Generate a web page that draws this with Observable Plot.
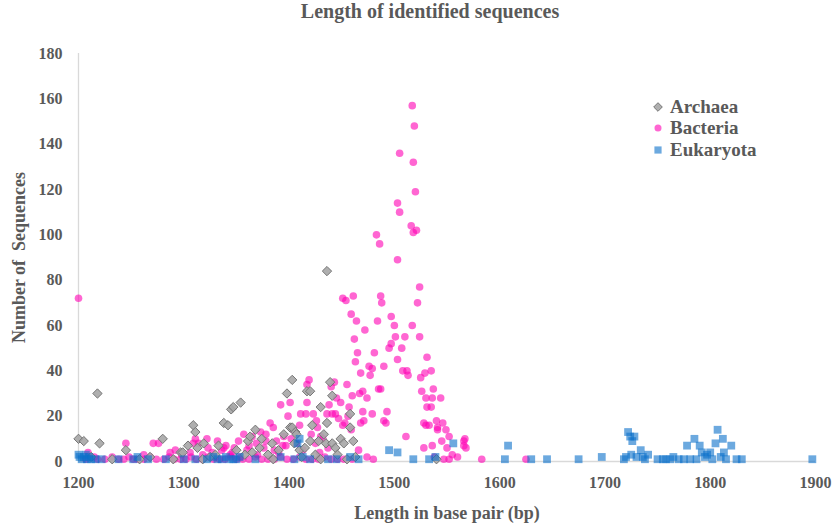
<!DOCTYPE html>
<html>
<head>
<meta charset="utf-8">
<script src="https://cdn.jsdelivr.net/npm/d3@7"></script>
<script src="https://cdn.jsdelivr.net/npm/@observablehq/plot@0.6"></script>
<style>
  body { margin: 0; background: #fff; width: 836px; height: 527px; overflow: hidden; position: relative; }
  #title { height: 36px; line-height: 38px; text-align: center; font: bold 20px "Liberation Serif", serif; color: #595959; padding-left: 24px; }
  #legend { position: absolute; left: 652px; top: 96px; font: bold 19px "Liberation Serif", serif; color: #595959; }
  #legend div { height: 21.5px; display: flex; align-items: center; }
  #legend svg { margin-right: 6px; }
  #chart svg text { font-family: "Liberation Serif", serif; }
</style>
</head>
<body>
<div id="title">Length of identified sequences</div>
<div id="chart"></div>
<div id="legend"></div>
<script>
// ---- data (length in bp, number of sequences) ----
const seriesNames = ["Archaea", "Bacteria", "Eukaryota"];
const xTicks = [1200, 1300, 1400, 1500, 1600, 1700, 1800, 1900];
const yTicks = [0, 20, 40, 60, 80, 100, 120, 140, 160, 180];

const archaeaLen = [1200,1205,1218,1220,1245,1212,1232,1258,1268,1280,1290,1297,1299,1304,1309,1311,1313,1319,1325,1333,1338,1342,1345,1347,1354,1358,1361,1363,1368,1372,1374,1380,1385,1390,1398,1401,1403,1403,1405,1406,1407,1410,1412,1417,1420,1420,1425,1428,1430,1433,1435,1436,1436,1439,1441,1441,1444,1446,1449,1452,1455,1458,1458,1461,1463,1540,1430,1422,1415,1395,1384,1365,1350,1330,1318];
const archaeaCount = [10,9,30,8,5,2,1,1,2,10,1,4,4,7,16,13,6,8,2,7,17,16,23,24,26,3,9,11,14,6,10,3,1,5,30,15,36,15,8,13,12,5,2,31,31,9,3,9,1,12,8,17,84,35,29,8,6,3,10,8,1,21,15,9,2,1,24,16,6,12,8,4,5,3,1];

const bacteriaLen = [1200,1207,1212,1218,1225,1232,1238,1243,1248,1252,1256,1262,1268,1274,1281,1286,1291,1297,1302,1307,1312,1318,1323,1328,1334,1339,1345,1350,1356,1362,1368,1374,1380,1386,1392,1398,1404,1410,1416,1422,1428,1434,1440,1446,1452,
  1209,1215,1245,1262,1271,1276,1287,1292,1298,1306,1311,1314,1309,1322,1323,1318,1327,1332,1336,1340,1344,1348,1352,1357,1360,1365,1369,1373,1376,1378,1382,1385,1388,1390,1392,1395,1397,1401,1399,1404,1407,1411,1413,1416,1417,1419,1417,1421,1423,1425,1427,1429,1432,1436,1437,1441,1444,1443,1440,1451,1454,1449,1451,1453,1447,1456,1459,1460,1459,
  1462,1463,1461,1465,1466,1468,1468,1470,1471,1472,1474,1476,1477,1479,1479,1481,1483,1484,1485,1486,1487,1487,1488,1490,1490,1492,1493,1495,1497,1497,1500,1501,1503,1503,1503,1505,1505,1507,1508,1510,1511,1512,1513,1516,1517,1517,1518,1518,1519,1520,1521,1522,1524,1524,1525,1526,1528,1528,1529,1530,1530,1531,1531,1533,1535,1535,1536,1536,1537,1540,1541,1541,1544,1545,1546,1549,1550,1552,1555,1560,1566,1567,1566,1568,1583,1625,1547,1552,1538,1474,1480,1460,
  1455,1457,1464,1467,1470,1445,1438,1430,1426,1410,1402,1394,1386,1378,1370,1362,1354,1346,1338,1330];
const bacteriaCount = [72,1,2,1,1,2,1,1,2,1,1,1,2,1,1,2,1,1,1,2,1,1,2,1,1,1,2,1,1,1,2,1,1,1,2,1,1,2,1,1,1,2,1,1,1,
  4,2,8,3,8,8,4,5,3,4,10,8,8,10,6,3,4,9,5,7,3,6,9,12,5,11,8,13,6,12,17,15,9,4,25,11,7,26,20,14,8,21,5,21,34,36,26,12,21,8,15,4,10,21,6,21,21,35,33,72,71,26,16,17,19,20,65,29,14,
  54,44,73,48,5,39,17,31,18,58,28,42,38,41,21,48,100,62,32,96,32,73,70,42,18,17,22,50,64,52,60,55,114,89,45,136,110,50,40,55,11,40,38,104,157,60,132,101,148,119,102,70,77,55,37,31,17,6,39,28,16,24,46,16,24,40,28,7,32,18,14,15,28,9,17,14,6,11,3,2,9,10,7,6,1,1,1,1,2,2,1,1,
  34,24,62,30,22,28,25,11,18,16,10,7,5,9,3,7,2,4,6,2];

const eukaryotaLen = [1200,1201,1203,1205,1207,1208,1210,1212,1216,1222,1238,1252,1256,1266,1283,1300,1311,1322,1328,1332,1336,1340,1343,1347,1350,1353,1368,1392,1405,1408,1410,1413,1420,1437,1445,1458,1466,1495,1503,1518,1533,1539,1556,1605,1608,1630,1645,1675,1697,1718,1720,1722,1724,1726,1728,1725,1730,1734,1736,1738,1741,1750,1755,1758,1762,1765,1770,1775,1778,1781,1785,1787,1790,1792,1795,1797,1800,1802,1805,1807,1810,1812,1813,1815,1820,1825,1830,1897];
const eukaryotaCount = [3,2,1,2,3,1,2,1,1,1,1,1,2,1,1,1,1,1,2,1,1,2,1,1,1,2,1,2,1,8,10,2,1,1,1,2,1,5,4,1,1,2,8,1,7,1,1,1,2,1,2,13,11,9,11,3,2,5,2,1,3,1,1,1,1,2,1,1,7,1,10,1,7,4,2,3,4,1,8,14,2,10,4,1,7,1,1,1];

const zip = (xs, ys) => xs.map((x, i) => ({x, y: ys[i]}));
const archaea = zip(archaeaLen, archaeaCount);
const bacteria = zip(bacteriaLen, bacteriaCount);
const eukaryota = zip(eukaryotaLen, eukaryotaCount);

const textColor = "#595959";
const font = '"Liberation Serif", serif';
const styleFor = {
  Archaea: {symbol: "diamond2", fill: "#a6a6a6", stroke: "#767676", fillOpacity: 0.9, r: 4.2},
  Bacteria: {symbol: "circle", fill: "#ff00b4", stroke: "none", fillOpacity: 0.6, r: 3.8},
  Eukaryota: {symbol: "square", fill: "#0a6fc9", stroke: "none", fillOpacity: 0.6, r: 4.4}
};

const chart = Plot.plot({
  width: 836,
  height: 491,
  marginTop: 17,
  marginBottom: 66,
  marginLeft: 78,
  marginRight: 21,
  style: {fontFamily: font, color: textColor, fontWeight: "bold", fontSize: "16px", background: "white"},
  x: {domain: [1200, 1900], label: null},
  y: {domain: [0, 180], label: null},
  marks: [
    Plot.ruleX([1200], {stroke: "#d9d9d9", strokeWidth: 1.3}),
    Plot.ruleY([0], {stroke: "#d9d9d9", strokeWidth: 1.3}),
    Plot.dot(bacteria, {x: "x", y: "y", ...styleFor.Bacteria}),
    Plot.dot(archaea, {x: "x", y: "y", ...styleFor.Archaea, strokeWidth: 1}),
    Plot.dot(eukaryota, {x: "x", y: "y", ...styleFor.Eukaryota}),
    Plot.axisX({ticks: xTicks, tickFormat: d => String(d), tickSize: 0, tickPadding: 15, label: "Length in base pair (bp)", labelAnchor: "center", labelArrow: "none", labelOffset: 57, fontSize: 16, fontWeight: "bold"}),
    Plot.axisY({ticks: yTicks, tickFormat: d => String(d), tickSize: 0, tickPadding: 16, label: "Number of  Sequences", labelAnchor: "center", labelArrow: "none", labelOffset: 66, fontSize: 16, fontWeight: "bold"})
  ]
});
document.getElementById("chart").appendChild(chart);
chart.querySelectorAll("[aria-label='x-axis label'], [aria-label='y-axis label']").forEach(g => {
  g.setAttribute("font-size", "18");
  g.querySelectorAll("text").forEach(t => t.setAttribute("font-size", "18"));
});

// legend
const legend = document.getElementById("legend");
const sym = {Archaea: d3.symbolDiamond2, Bacteria: d3.symbolCircle, Eukaryota: d3.symbolSquare};
for (const name of seriesNames) {
  const s = styleFor[name];
  const row = document.createElement("div");
  const svg = d3.create("svg").attr("width", 12).attr("height", 12);
  svg.append("path")
    .attr("transform", "translate(6,6)")
    .attr("d", d3.symbol(sym[name], Math.PI * s.r * s.r * 0.85)())
    .attr("fill", s.fill).attr("fill-opacity", s.fillOpacity)
    .attr("stroke", s.stroke).attr("stroke-width", 1);
  row.appendChild(svg.node());
  const span = document.createElement("span");
  span.textContent = name;
  row.appendChild(span);
  legend.appendChild(row);
}
</script>
</body>
</html>
